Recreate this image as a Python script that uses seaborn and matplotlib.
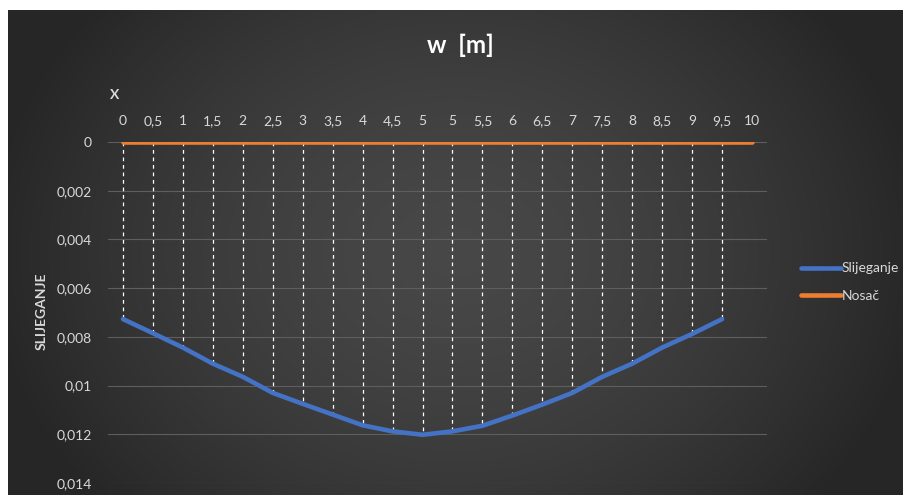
import numpy as np
import pandas as pd
import matplotlib
matplotlib.use('Agg')
import matplotlib.pyplot as plt
import seaborn as sns

# Data
x_labels = ['0', '0,5', '1', '1,5', '2', '2,5', '3', '3,5', '4', '4,5', '5',
            '5', '5,5', '6', '6,5', '7', '7,5', '8', '8,5', '9', '9,5', '10']
slijeganje = [0.00727, 0.00785, 0.00844, 0.00910, 0.00964, 0.01030, 0.01075,
              0.01119, 0.01163, 0.01188, 0.01202, 0.01188, 0.01165, 0.01123,
              0.01078, 0.01030, 0.00964, 0.00910, 0.00844, 0.00788, 0.00727]
nosac = [0.0] * len(x_labels)
y_ticks = [0, 0.002, 0.004, 0.006, 0.008, 0.01, 0.012, 0.014]
y_labels = ['0', '0,002', '0,004', '0,006', '0,008', '0,01', '0,012', '0,014']

df = pd.concat([
    pd.DataFrame({'pos': range(len(slijeganje)), 'w': slijeganje, 'serija': 'Slijeganje'}),
    pd.DataFrame({'pos': range(len(nosac)), 'w': nosac, 'serija': 'Nosač'}),
], ignore_index=True)

sns.set_style('dark')
plt.rcParams['font.family'] = ['Lato', 'DejaVu Sans']
txt = '#d9d9d9'

fig = plt.figure(figsize=(9.04, 4.95), dpi=100, facecolor='white')

# dark radial gradient background like the Excel chart area
bg = fig.add_axes([8 / 904, 0, 896 / 904, 485 / 495])
gx, gy = np.meshgrid(np.linspace(-1, 1, 400), np.linspace(-1, 1, 220))
r = np.clip(np.sqrt((gx / 1.05) ** 2 + (gy / 1.6) ** 2), 0, 1)
shade = 0.28 - 0.13 * r ** 1.6
bg.imshow(np.dstack([shade] * 3), aspect='auto', extent=(0, 1, 0, 1))
bg.axis('off')

ax = fig.add_axes([108 / 904, 12 / 495, 659 / 904, 341 / 495])
ax.patch.set_alpha(0)

# Excel-style high-low lines between the two series
ax.vlines(range(len(slijeganje)), 0, slijeganje, colors='white',
          linestyles=(0, (3, 3)), linewidth=0.9, zorder=2)
sns.lineplot(data=df, x='pos', y='w', hue='serija',
             palette={'Slijeganje': '#4472C4', 'Nosač': '#ED7D31'},
             linewidth=3.3, ax=ax, zorder=3)

ax.set_xlim(-0.5, len(x_labels) - 0.5)
ax.set_ylim(0.014, 0)
ax.set_yticks(y_ticks)
ax.set_yticklabels(y_labels)
ax.set_xticks(range(len(x_labels)))
ax.set_xticklabels(x_labels)
ax.xaxis.tick_top()
ax.tick_params(axis='both', length=0, labelsize=10, colors=txt)
ax.tick_params(axis='x', pad=11)
ax.tick_params(axis='y', pad=11.5)
ax.set_xlabel('')
ax.set_ylabel('')
ax.yaxis.grid(True, color='#5e5e5e', linewidth=0.8)
ax.xaxis.grid(False)
for s in ax.spines.values():
    s.set_visible(False)

sns.move_legend(ax, loc='upper left', bbox_to_anchor=(0.872, 0.495),
                bbox_transform=fig.transFigure, frameon=False, title=None,
                fontsize=10, labelcolor=txt, handlelength=2.9,
                handletextpad=0.05, labelspacing=1.1)

fig.text(460 / 904, 1 - 45 / 495, 'w  [m]', ha='center', va='center',
         fontsize=17.5, fontweight='bold', color='white')
fig.text(115 / 904, 1 - 95 / 495, 'X', ha='center', va='center',
         fontsize=10, fontweight='bold', color=txt)
fig.text(42 / 904, 1 - 311 / 495, 'SLIJEGANJE', ha='center', va='center',
         rotation=90, fontsize=10, fontweight='bold', color=txt)

fig.savefig('out.png', dpi=100, facecolor='white')
